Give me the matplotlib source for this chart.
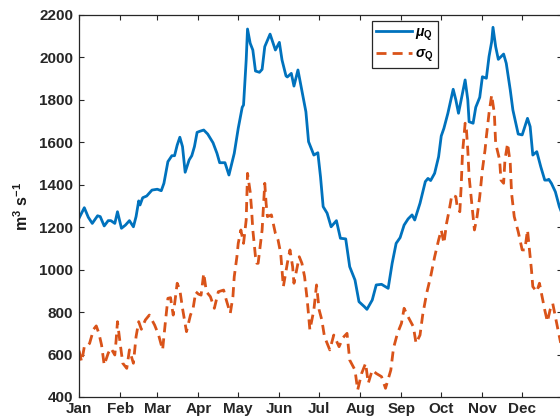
import matplotlib

matplotlib.use("Agg")
import matplotlib.pyplot as plt
import numpy as np

# ----- data ---------------------------------------------------------------
MONTHS = ["Jan", "Feb", "Mar", "Apr", "May", "Jun",
          "Jul", "Aug", "Sep", "Oct", "Nov", "Dec"]
MONTH_START = [1, 32, 60, 91, 121, 152, 182, 213, 244, 274, 305, 335]

mu_day = [1, 5, 8, 11, 15, 17, 20, 23, 25, 28, 30, 33, 36, 39, 42, 44, 46, 47,
          49, 52, 56, 60, 63, 65, 68, 71, 73, 75, 77, 79, 81, 84, 86, 88, 90,
          92, 95, 98, 102, 105, 107, 111, 114, 118, 121, 124, 125, 127, 128,
          130, 132, 134, 137, 139, 141, 145, 149, 152, 154, 157, 158, 161, 163,
          166, 169, 172, 174, 178, 181, 183, 185, 188, 191, 195, 198, 202, 205,
          209, 212, 216, 218, 222, 225, 229, 234, 237, 240, 243, 246, 249, 252,
          254, 258, 262, 264, 266, 269, 272, 274, 276, 279, 283, 285, 287, 289,
          292, 294, 295, 298, 300, 303, 305, 308, 310, 312, 313, 315, 317, 321,
          323, 326, 328, 332, 335, 339, 341, 343, 346, 349, 352, 354, 355, 357,
          360, 363, 365]
mu_val = [1242, 1292, 1247, 1218, 1254, 1250, 1206, 1231, 1231, 1218, 1273,
          1195, 1210, 1231, 1202, 1250, 1324, 1305, 1339, 1347, 1375, 1379,
          1372, 1407, 1509, 1537, 1537, 1587, 1624, 1580, 1459, 1517, 1537,
          1580, 1647, 1652, 1658, 1639, 1598, 1548, 1504, 1504, 1446, 1548,
          1666, 1765, 1776, 1988, 2134, 2067, 2035, 1936, 1930, 1944, 2051,
          2110, 2035, 2071, 1988, 1913, 1908, 1925, 1865, 1941, 1843, 1744,
          1603, 1540, 1551, 1438, 1297, 1266, 1202, 1231, 1148, 1145, 1014,
          951, 849, 826, 813, 857, 928, 931, 912, 1030, 1124, 1151, 1210, 1239,
          1258, 1234, 1313, 1415, 1430, 1420, 1454, 1532, 1630, 1666, 1737,
          1850, 1800, 1737, 1800, 1894, 1800, 1697, 1690, 1765, 1812, 1909,
          1902, 2004, 2074, 2142, 2051, 1991, 2016, 1972, 1847, 1752, 1639,
          1635, 1713, 1674, 1540, 1556, 1485, 1422, 1422, 1426, 1407, 1367,
          1297, 1265]

sd_day = [1, 3, 5, 7, 9, 12, 14, 16, 18, 20, 23, 25, 28, 29, 30, 32, 34, 37,
          39, 42, 44, 46, 48, 51, 54, 58, 61, 64, 66, 68, 70, 72, 75, 77, 79,
          82, 85, 87, 89, 91, 93, 95, 97, 100, 103, 106, 110, 112, 115, 117,
          118, 120, 121, 123, 125, 127, 128, 130, 131, 132, 134, 135, 136, 139,
          140, 141, 142, 143, 146, 149, 151, 153, 155, 158, 160, 162, 163, 165,
          167, 169, 171, 173, 175, 178, 180, 182, 184, 186, 190, 193, 197, 200,
          203, 205, 209, 211, 214, 217, 219, 222, 225, 229, 232, 236, 238, 241,
          244, 246, 249, 253, 255, 258, 260, 263, 266, 269, 272, 274, 276, 278,
          280, 282, 285, 286, 288, 289, 290, 292, 293, 294, 295, 297, 299, 301,
          303, 305, 307, 308, 310, 312, 314, 315, 318, 319, 321, 322, 324, 326,
          327, 329, 332, 335, 337, 339, 340, 342, 343, 346, 348, 350, 352, 354,
          356, 358, 360, 362, 364]
sd_val = [618, 566, 637, 637, 653, 719, 735, 700, 645, 551, 606, 630, 598, 669,
          755, 653, 559, 535, 622, 559, 684, 755, 719, 763, 786, 739, 692, 622,
          747, 865, 868, 786, 936, 904, 818, 708, 786, 818, 896, 885, 880, 983,
          896, 873, 818, 896, 904, 857, 794, 873, 967, 1061, 1124, 1187, 1124,
          1234, 1454, 1367, 1289, 1187, 1061, 1030, 1030, 1187, 1297, 1407,
          1313, 1250, 1258, 1171, 1140, 1077, 920, 1030, 1093, 1014, 936, 998,
          1061, 1030, 967, 857, 716, 810, 928, 810, 763, 684, 622, 692, 637,
          680, 700, 574, 527, 433, 511, 559, 465, 527, 511, 496, 441, 527, 630,
          700, 747, 818, 778, 731, 653, 692, 786, 889, 967, 1060, 1140, 1187,
          1124, 1218, 1281, 1352, 1344, 1297, 1273, 1391, 1548, 1690, 1658,
          1564, 1438, 1313, 1187, 1250, 1344, 1470, 1564, 1627, 1737, 1823,
          1737, 1595, 1517, 1422, 1407, 1517, 1595, 1501, 1360, 1250, 1179,
          1093, 1093, 1187, 1124, 998, 920, 896, 936, 873, 810, 755, 810, 841,
          778, 716, 655]
# -------------------------------------------------------------------------

plt.rcParams["font.family"] = ["Liberation Sans", "DejaVu Sans"]
plt.rcParams["font.weight"] = "bold"
plt.rcParams["mathtext.fontset"] = "custom"
plt.rcParams["mathtext.rm"] = "Liberation Sans:bold"
plt.rcParams["mathtext.bf"] = "Liberation Sans:bold"
plt.rcParams["mathtext.it"] = "Liberation Sans:italic"

EDGE = "0.15"

fig = plt.figure(figsize=(5.6, 4.17), dpi=100)
ax = fig.add_axes([79 / 560, 20 / 417, 483 / 560, 382 / 417])

ax.plot(mu_day, mu_val, "-", color="#0072BD", lw=2, label=r"$\mathit{\mu}_{\mathbf{Q}}$")
ax.plot(sd_day, sd_val, "--", color="#D95319", lw=2, dashes=(3.6, 2.2),
        label=r"$\mathit{\sigma}_{\mathbf{Q}}$")

ax.set_xlim(1, 365)
ax.set_ylim(400, 2200)
ax.set_xticks(MONTH_START)
ax.set_xticklabels(MONTHS)
ax.set_yticks(np.arange(400, 2201, 200))
ax.tick_params(direction="in", top=True, right=True, length=3.6, width=0.8,
               colors=EDGE, labelsize=11, labelcolor="0.15")
ax.tick_params(axis="y", pad=4.3)
ax.tick_params(axis="x", pad=3.5)
for lab in ax.get_xticklabels() + ax.get_yticklabels():
    lab.set_fontweight("bold")
for sp in ax.spines.values():
    sp.set_color(EDGE)
    sp.set_linewidth(0.9)

ax.set_ylabel(r"$\mathbf{m^{3}\ s^{-1}}$", fontsize=11.5, color="0.1", labelpad=6)

leg = ax.legend(loc="upper left", bbox_to_anchor=(372 / 560, 1 - 21 / 417),
                bbox_transform=fig.transFigure, fontsize=10, frameon=True,
                fancybox=False, framealpha=1, edgecolor="0.15",
                handlelength=2.6, handletextpad=0.2, borderaxespad=0,
                borderpad=0.3, labelspacing=0.3)
leg.get_frame().set_linewidth(0.9)

fig.savefig("out.png", dpi=100)
